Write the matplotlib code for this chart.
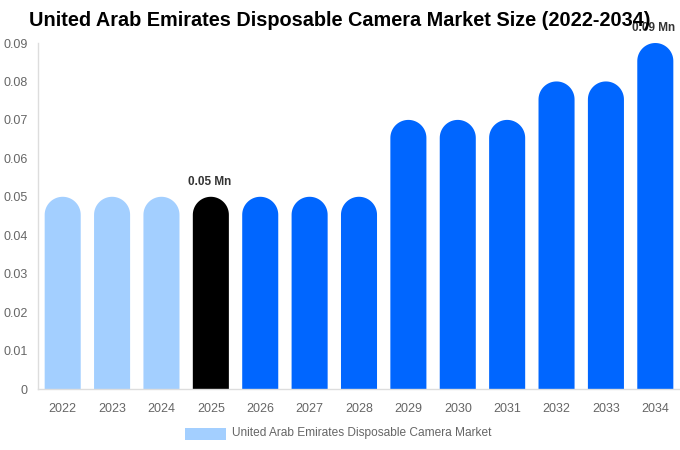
import numpy as np
import matplotlib
matplotlib.use("Agg")
import matplotlib.pyplot as plt
from matplotlib.patches import Rectangle, PathPatch
from matplotlib.path import Path

years = ["2022", "2023", "2024", "2025", "2026", "2027", "2028",
         "2029", "2030", "2031", "2032", "2033", "2034"]
values = [0.05, 0.05, 0.05, 0.05, 0.05, 0.05, 0.05,
          0.07, 0.07, 0.07, 0.08, 0.08, 0.09]
colors = ["#a3cfff"] * 3 + ["#000000"] + ["#0066ff"] * 9
yticks = [0, 0.01, 0.02, 0.03, 0.04, 0.05, 0.06, 0.07, 0.08, 0.09]
ytick_labels = ["0", "0.01", "0.02", "0.03", "0.04", "0.05", "0.06", "0.07", "0.08", "0.09"]
annotated = {3: "0.05 Mn", 12: "0.09 Mn"}
title = "United Arab Emirates Disposable Camera Market Size (2022-2034)"
legend_label = "United Arab Emirates Disposable Camera Market"

plt.rcParams['font.family'] = ['Liberation Sans', 'DejaVu Sans']

W, H = 680, 450
fig = plt.figure(figsize=(W / 100, H / 100), dpi=100)
left, right, top, bottom = 38, 680, 43, 389
ax = fig.add_axes([left / W, (H - bottom) / H, (right - left) / W, (bottom - top) / H])
n = len(years)
ax.set_xlim(-0.5, n - 0.5)
ax.set_ylim(0, 0.09)

bw = 0.73
px_per_x = (right - left) / n
px_per_y = (bottom - top) / 0.09
r_px = bw / 2 * px_per_x
r_y = r_px / px_per_y
theta = np.linspace(0, np.pi, 40)

for i, (v, c) in enumerate(zip(values, colors)):
    body = v - r_y
    xs = [i - bw / 2, i + bw / 2] + list(i + bw / 2 * np.cos(theta)) + [i - bw / 2]
    ys = [0, 0] + list(body + r_y * np.sin(theta)) + [0]
    ax.add_patch(PathPatch(Path(np.column_stack([xs, ys])), facecolor=c, edgecolor="none"))
    if i in annotated:
        ax.annotate(annotated[i], xy=(i, v), xytext=(-1, 6.5), textcoords="offset points",
                    ha="center", va="bottom", fontsize=8.5, fontweight="bold", color="#333333",
                    annotation_clip=False)

ax.set_xticks(range(n))
ax.set_xticklabels(years)
ax.set_yticks(yticks)
ax.set_yticklabels(ytick_labels)
ax.tick_params(axis="both", length=0, labelsize=9, colors="#666666")
ax.tick_params(axis="x", pad=10)
ax.tick_params(axis="y", pad=7.5)
for s in ["top", "right"]:
    ax.spines[s].set_visible(False)
for s in ["left", "bottom"]:
    ax.spines[s].set_color("#dddddd")
    ax.spines[s].set_linewidth(1)

fig.text(340 / W, 1 - 21 / H, title, ha="center", va="center", fontsize=14.3,
         fontweight="bold", color="#000000")

fig.patches.append(Rectangle((185 / W, 1 - 440 / H), 41 / W, 12 / H, transform=fig.transFigure,
                             facecolor="#a3cfff", edgecolor="none"))
fig.text(232 / W, 1 - 433 / H, legend_label, ha="left", va="center", fontsize=8.6, color="#666666")

fig.savefig("out.png", dpi=100)
